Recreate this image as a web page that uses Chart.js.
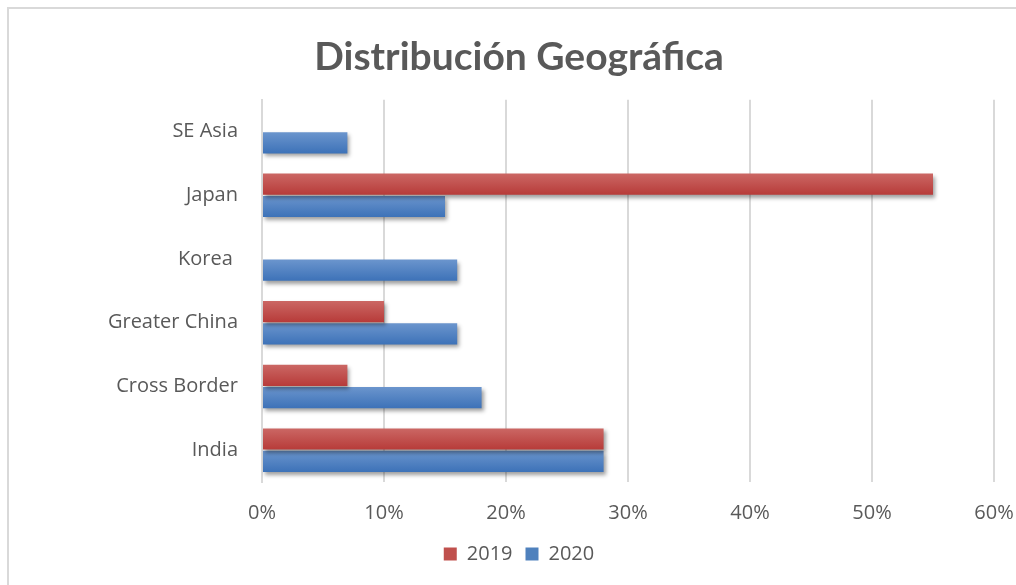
<!DOCTYPE html>
<html>
<head>
<meta charset="utf-8">
<script src="https://cdn.jsdelivr.net/npm/chart.js@4.4.1/dist/chart.umd.min.js"></script>
<style>
  html, body { margin: 0; padding: 0; background: #ffffff; overflow: hidden; }
  #wrap { position: relative; width: 1016px; height: 585px; }
  #frame { position: absolute; left: 7px; top: 7px; width: 1030px; height: 600px; border: 2px solid #d9d9d9; box-sizing: border-box; }
  canvas { position: absolute; left: 0; top: 0; }
</style>
</head>
<body>
<div id="wrap">
  <div id="frame"></div>
  <canvas id="c" width="1016" height="585"></canvas>
</div>
<script>
const categories = ["SE Asia", "Japan", "Korea ", "Greater China", "Cross Border", "India"];
const values2019 = [null, 55, null, 10, 7, 28];
const values2020 = [7, 15, 16, 16, 18, 28];
const xTicks = [0, 10, 20, 30, 40, 50, 60];

const gradColors = {
  0: ["#cb6764", "#b73b39"],
  1: ["#6b95cd", "#3d72b8"]
};

const barStyle = {
  id: 'barStyle',
  beforeDatasetsDraw(chart) {
    const ctx = chart.ctx;
    chart.data.datasets.forEach((ds, di) => {
      const meta = chart.getDatasetMeta(di);
      meta.data.forEach(el => {
        if (el.y == null || isNaN(el.y)) return;
        const h = el.height;
        const g = ctx.createLinearGradient(0, el.y - h / 2, 0, el.y + h / 2);
        g.addColorStop(0, gradColors[di][0]);
        g.addColorStop(1, gradColors[di][1]);
        el.options = Object.assign({}, el.options, { backgroundColor: g });
      });
    });
    ctx.save();
    ctx.shadowColor = 'rgba(0,0,0,0.38)';
    ctx.shadowBlur = 4;
    ctx.shadowOffsetX = 2;
    ctx.shadowOffsetY = 3;
  },
  afterDatasetsDraw(chart) {
    chart.ctx.restore();
  }
};

new Chart(document.getElementById('c'), {
  type: 'bar',
  data: {
    labels: categories,
    datasets: [
      { label: '2019', data: values2019, backgroundColor: '#c0504d', borderWidth: 0 },
      { label: '2020', data: values2020, backgroundColor: '#4f81bd', borderWidth: 0 }
    ]
  },
  plugins: [barStyle],
  options: {
    indexAxis: 'y',
    responsive: false,
    animation: false,
    devicePixelRatio: 1,
    categoryPercentage: 0.7,
    barPercentage: 0.95,
    layout: { padding: { left: 22, right: 0, top: 34, bottom: 11 } },
    plugins: {
      title: {
        display: true,
        text: 'Distribución Geográfica',
        color: '#595959',
        font: { family: 'Lato', size: 39, weight: 'bold' },
        padding: { top: 0, bottom: 19 }
      },
      legend: {
        position: 'bottom',
        labels: {
          color: '#595959',
          font: { family: 'Open Sans', size: 20 },
          boxWidth: 13,
          boxHeight: 13,
          padding: 13
        }
      },
      tooltip: { enabled: false }
    },
    scales: {
      x: {
        min: 0,
        max: 60,
        afterBuildTicks(scale) { scale.ticks = xTicks.map(v => ({ value: v })); },
        afterFit(scale) { scale.height = 49; scale.paddingRight = 22; scale.paddingLeft = 0; },
        ticks: {
          color: '#595959',
          font: { family: 'Open Sans', size: 20 },
          padding: 19,
          callback: v => v + '%'
        },
        grid: { color: '#d9d9d9', lineWidth: 2, drawTicks: false },
        border: { display: false }
      },
      y: {
        afterFit(scale) { scale.width = 240; },
        ticks: {
          color: '#595959',
          font: { family: 'Open Sans', size: 20 },
          padding: 24
        },
        grid: { display: false, drawTicks: false },
        border: { display: true, color: '#d9d9d9', width: 2 }
      }
    }
  }
});
</script>
</body>
</html>
